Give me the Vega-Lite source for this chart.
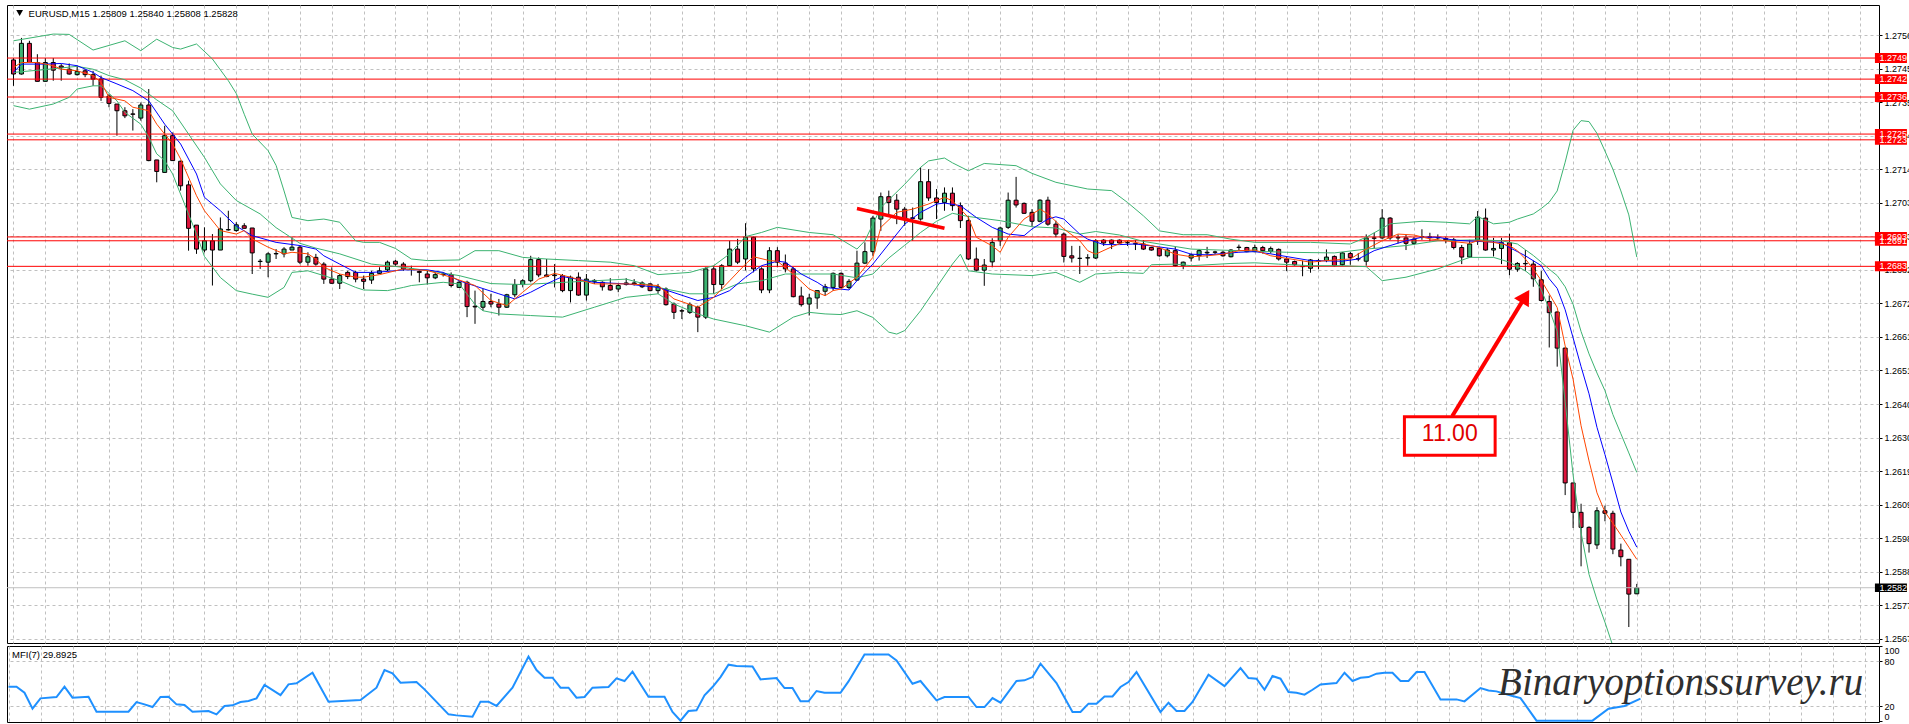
{
  "$schema": "https://vega.github.io/schema/vega-lite/v6.json",
  "description": "EURUSD M15 candlestick chart with Bollinger bands, two moving averages, level lines and MFI(7) panel.",
  "background": "#ffffff",
  "padding": {"left": 4, "top": 4, "right": 0, "bottom": 3},
  "bounds": "flush",
  "spacing": 3,
  "config": {
    "view": {"stroke": "#000000", "strokeWidth": 1},
    "font": "Liberation Sans",
    "axis": {"labelOverlap": false, "labelBound": false}
  },
  "datasets": {
    "candles": [
      {"k":0,"o":1.27480,"h":1.27486,"l":1.27399,"c":1.27436},
      {"k":1,"o":1.27436,"h":1.27549,"l":1.27434,"c":1.27532},
      {"k":2,"o":1.27532,"h":1.27540,"l":1.27472,"c":1.27472},
      {"k":3,"o":1.27472,"h":1.27498,"l":1.27413,"c":1.27413},
      {"k":4,"o":1.27413,"h":1.27486,"l":1.27413,"c":1.27472},
      {"k":5,"o":1.27472,"h":1.27486,"l":1.27415,"c":1.27448},
      {"k":6,"o":1.27461,"h":1.27467,"l":1.27415,"c":1.27456},
      {"k":7,"o":1.27451,"h":1.27469,"l":1.27434,"c":1.27436},
      {"k":8,"o":1.27434,"h":1.27462,"l":1.27431,"c":1.27444},
      {"k":9,"o":1.27446,"h":1.27451,"l":1.27426,"c":1.27434},
      {"k":10,"o":1.27434,"h":1.27446,"l":1.27399,"c":1.27420},
      {"k":11,"o":1.27420,"h":1.27431,"l":1.27352,"c":1.27363},
      {"k":12,"o":1.27367,"h":1.27373,"l":1.27332,"c":1.27344},
      {"k":13,"o":1.27342,"h":1.27342,"l":1.27243,"c":1.27321},
      {"k":14,"o":1.27321,"h":1.27332,"l":1.27298,"c":1.27305},
      {"k":15,"o":1.27311,"h":1.27326,"l":1.27259,"c":1.27310},
      {"k":16,"o":1.27298,"h":1.27347,"l":1.27290,"c":1.27339},
      {"k":17,"o":1.27339,"h":1.27389,"l":1.27163,"c":1.27165},
      {"k":18,"o":1.27167,"h":1.27167,"l":1.27097,"c":1.27131},
      {"k":19,"o":1.27128,"h":1.27274,"l":1.27128,"c":1.27243},
      {"k":20,"o":1.27243,"h":1.27253,"l":1.27165,"c":1.27165},
      {"k":21,"o":1.27163,"h":1.27165,"l":1.27071,"c":1.27086},
      {"k":22,"o":1.27089,"h":1.27102,"l":1.26883,"c":1.26953},
      {"k":23,"o":1.26963,"h":1.26963,"l":1.26873,"c":1.26888},
      {"k":24,"o":1.26885,"h":1.26956,"l":1.26878,"c":1.26914},
      {"k":25,"o":1.26914,"h":1.26935,"l":1.26774,"c":1.26885},
      {"k":26,"o":1.26885,"h":1.26987,"l":1.26885,"c":1.26951},
      {"k":27,"o":1.26948,"h":1.27008,"l":1.26946,"c":1.26949},
      {"k":28,"o":1.26946,"h":1.26972,"l":1.26942,"c":1.26964},
      {"k":29,"o":1.26961,"h":1.26969,"l":1.26953,"c":1.26953},
      {"k":30,"o":1.26954,"h":1.26954,"l":1.26810,"c":1.26876},
      {"k":31,"o":1.26849,"h":1.26857,"l":1.26826,"c":1.26850},
      {"k":32,"o":1.26847,"h":1.26878,"l":1.26800,"c":1.26873},
      {"k":33,"o":1.26873,"h":1.26888,"l":1.26857,"c":1.26874},
      {"k":34,"o":1.26873,"h":1.26894,"l":1.26862,"c":1.26888},
      {"k":35,"o":1.26885,"h":1.26925,"l":1.26885,"c":1.26894},
      {"k":36,"o":1.26894,"h":1.26899,"l":1.26841,"c":1.26847},
      {"k":37,"o":1.26847,"h":1.26878,"l":1.26836,"c":1.26864},
      {"k":38,"o":1.26862,"h":1.26873,"l":1.26836,"c":1.26841},
      {"k":39,"o":1.26841,"h":1.26847,"l":1.26779,"c":1.26794},
      {"k":40,"o":1.26794,"h":1.26831,"l":1.26779,"c":1.26781},
      {"k":41,"o":1.26781,"h":1.26810,"l":1.26763,"c":1.26805},
      {"k":42,"o":1.26815,"h":1.26820,"l":1.26794,"c":1.26802},
      {"k":43,"o":1.26815,"h":1.26820,"l":1.26784,"c":1.26794},
      {"k":44,"o":1.26794,"h":1.26805,"l":1.26763,"c":1.26787},
      {"k":45,"o":1.26791,"h":1.26820,"l":1.26779,"c":1.26812},
      {"k":46,"o":1.26812,"h":1.26831,"l":1.26810,"c":1.26820},
      {"k":47,"o":1.26823,"h":1.26852,"l":1.26818,"c":1.26847},
      {"k":48,"o":1.26850,"h":1.26854,"l":1.26836,"c":1.26841},
      {"k":49,"o":1.26841,"h":1.26847,"l":1.26820,"c":1.26826},
      {"k":50,"o":1.26826,"h":1.26836,"l":1.26805,"c":1.26824},
      {"k":51,"o":1.26818,"h":1.26821,"l":1.26784,"c":1.26815},
      {"k":52,"o":1.26810,"h":1.26821,"l":1.26777,"c":1.26798},
      {"k":53,"o":1.26798,"h":1.26815,"l":1.26794,"c":1.26808},
      {"k":54,"o":1.26810,"h":1.26815,"l":1.26802,"c":1.26808},
      {"k":55,"o":1.26808,"h":1.26815,"l":1.26768,"c":1.26774},
      {"k":56,"o":1.26768,"h":1.26789,"l":1.26768,"c":1.26784},
      {"k":57,"o":1.26784,"h":1.26789,"l":1.26675,"c":1.26708},
      {"k":58,"o":1.26709,"h":1.26758,"l":1.26654,"c":1.26707},
      {"k":59,"o":1.26706,"h":1.26763,"l":1.26695,"c":1.26724},
      {"k":60,"o":1.26724,"h":1.26748,"l":1.26706,"c":1.26716},
      {"k":61,"o":1.26716,"h":1.26732,"l":1.26680,"c":1.26706},
      {"k":62,"o":1.26706,"h":1.26748,"l":1.26704,"c":1.26745},
      {"k":63,"o":1.26745,"h":1.26794,"l":1.26737,"c":1.26777},
      {"k":64,"o":1.26777,"h":1.26794,"l":1.26768,"c":1.26789},
      {"k":65,"o":1.26789,"h":1.26867,"l":1.26784,"c":1.26855},
      {"k":66,"o":1.26855,"h":1.26862,"l":1.26800,"c":1.26807},
      {"k":67,"o":1.26807,"h":1.26857,"l":1.26800,"c":1.26802},
      {"k":68,"o":1.26807,"h":1.26841,"l":1.26768,"c":1.26805},
      {"k":69,"o":1.26805,"h":1.26810,"l":1.26753,"c":1.26758},
      {"k":70,"o":1.26758,"h":1.26805,"l":1.26721,"c":1.26800},
      {"k":71,"o":1.26800,"h":1.26815,"l":1.26742,"c":1.26744},
      {"k":72,"o":1.26744,"h":1.26810,"l":1.26727,"c":1.26794},
      {"k":73,"o":1.26787,"h":1.26794,"l":1.26779,"c":1.26790},
      {"k":74,"o":1.26784,"h":1.26787,"l":1.26758,"c":1.26770},
      {"k":75,"o":1.26774,"h":1.26797,"l":1.26758,"c":1.26760},
      {"k":76,"o":1.26763,"h":1.26779,"l":1.26753,"c":1.26774},
      {"k":77,"o":1.26777,"h":1.26797,"l":1.26774,"c":1.26782},
      {"k":78,"o":1.26782,"h":1.26794,"l":1.26774,"c":1.26779},
      {"k":79,"o":1.26782,"h":1.26787,"l":1.26766,"c":1.26770},
      {"k":80,"o":1.26779,"h":1.26781,"l":1.26756,"c":1.26758},
      {"k":81,"o":1.26758,"h":1.26779,"l":1.26748,"c":1.26770},
      {"k":82,"o":1.26763,"h":1.26768,"l":1.26711,"c":1.26714},
      {"k":83,"o":1.26716,"h":1.26721,"l":1.26669,"c":1.26690},
      {"k":84,"o":1.26695,"h":1.26701,"l":1.26669,"c":1.26694},
      {"k":85,"o":1.26690,"h":1.26721,"l":1.26685,"c":1.26714},
      {"k":86,"o":1.26706,"h":1.26711,"l":1.26628,"c":1.26675},
      {"k":87,"o":1.26675,"h":1.26831,"l":1.26669,"c":1.26826},
      {"k":88,"o":1.26826,"h":1.26836,"l":1.26748,"c":1.26777},
      {"k":89,"o":1.26777,"h":1.26841,"l":1.26763,"c":1.26836},
      {"k":90,"o":1.26836,"h":1.26914,"l":1.26836,"c":1.26888},
      {"k":91,"o":1.26888,"h":1.26920,"l":1.26841,"c":1.26847},
      {"k":92,"o":1.26857,"h":1.26969,"l":1.26821,"c":1.26925},
      {"k":93,"o":1.26925,"h":1.26927,"l":1.26815,"c":1.26826},
      {"k":94,"o":1.26826,"h":1.26831,"l":1.26750,"c":1.26760},
      {"k":95,"o":1.26760,"h":1.26894,"l":1.26750,"c":1.26883},
      {"k":96,"o":1.26883,"h":1.26894,"l":1.26831,"c":1.26847},
      {"k":97,"o":1.26844,"h":1.26871,"l":1.26815,"c":1.26826},
      {"k":98,"o":1.26826,"h":1.26831,"l":1.26737,"c":1.26739},
      {"k":99,"o":1.26741,"h":1.26770,"l":1.26708,"c":1.26714},
      {"k":100,"o":1.26716,"h":1.26748,"l":1.26680,"c":1.26735},
      {"k":101,"o":1.26735,"h":1.26758,"l":1.26701,"c":1.26758},
      {"k":102,"o":1.26756,"h":1.26779,"l":1.26742,"c":1.26770},
      {"k":103,"o":1.26768,"h":1.26815,"l":1.26758,"c":1.26812},
      {"k":104,"o":1.26812,"h":1.26815,"l":1.26766,"c":1.26768},
      {"k":105,"o":1.26768,"h":1.26794,"l":1.26763,"c":1.26787},
      {"k":106,"o":1.26791,"h":1.26883,"l":1.26789,"c":1.26844},
      {"k":107,"o":1.26844,"h":1.26909,"l":1.26841,"c":1.26880},
      {"k":108,"o":1.26880,"h":1.26992,"l":1.26867,"c":1.26985},
      {"k":109,"o":1.26982,"h":1.27065,"l":1.26945,"c":1.27052},
      {"k":110,"o":1.27052,"h":1.27071,"l":1.26992,"c":1.27034},
      {"k":111,"o":1.27041,"h":1.27060,"l":1.26966,"c":1.27013},
      {"k":112,"o":1.27013,"h":1.27020,"l":1.26961,"c":1.26982},
      {"k":113,"o":1.26986,"h":1.27018,"l":1.26914,"c":1.26984},
      {"k":114,"o":1.26982,"h":1.27144,"l":1.26977,"c":1.27099},
      {"k":115,"o":1.27099,"h":1.27138,"l":1.27039,"c":1.27048},
      {"k":116,"o":1.27048,"h":1.27076,"l":1.26982,"c":1.27034},
      {"k":117,"o":1.27034,"h":1.27081,"l":1.27008,"c":1.27063},
      {"k":118,"o":1.27063,"h":1.27081,"l":1.27008,"c":1.27024},
      {"k":119,"o":1.27024,"h":1.27034,"l":1.26954,"c":1.26977},
      {"k":120,"o":1.26977,"h":1.26992,"l":1.26854,"c":1.26857},
      {"k":121,"o":1.26857,"h":1.26893,"l":1.26818,"c":1.26822},
      {"k":122,"o":1.26822,"h":1.26857,"l":1.26773,"c":1.26838},
      {"k":123,"o":1.26848,"h":1.26922,"l":1.26831,"c":1.26909},
      {"k":124,"o":1.26914,"h":1.26958,"l":1.26898,"c":1.26954},
      {"k":125,"o":1.26956,"h":1.27065,"l":1.26951,"c":1.27041},
      {"k":126,"o":1.27041,"h":1.27114,"l":1.27018,"c":1.27026},
      {"k":127,"o":1.27031,"h":1.27034,"l":1.26998,"c":1.27000},
      {"k":128,"o":1.27003,"h":1.27013,"l":1.26958,"c":1.26975},
      {"k":129,"o":1.26975,"h":1.27044,"l":1.26972,"c":1.27041},
      {"k":130,"o":1.27041,"h":1.27052,"l":1.26961,"c":1.26966},
      {"k":131,"o":1.26966,"h":1.26977,"l":1.26925,"c":1.26935},
      {"k":132,"o":1.26935,"h":1.26940,"l":1.26846,"c":1.26865},
      {"k":133,"o":1.26867,"h":1.26898,"l":1.26846,"c":1.26860},
      {"k":134,"o":1.26859,"h":1.26898,"l":1.26810,"c":1.26859},
      {"k":135,"o":1.26860,"h":1.26872,"l":1.26836,"c":1.26861},
      {"k":136,"o":1.26860,"h":1.26919,"l":1.26857,"c":1.26914},
      {"k":137,"o":1.26916,"h":1.26919,"l":1.26898,"c":1.26907},
      {"k":138,"o":1.26916,"h":1.26918,"l":1.26888,"c":1.26906},
      {"k":139,"o":1.26916,"h":1.26918,"l":1.26904,"c":1.26907},
      {"k":140,"o":1.26908,"h":1.26914,"l":1.26898,"c":1.26908},
      {"k":141,"o":1.26905,"h":1.26916,"l":1.26885,"c":1.26904},
      {"k":142,"o":1.26904,"h":1.26916,"l":1.26885,"c":1.26888},
      {"k":143,"o":1.26893,"h":1.26895,"l":1.26883,"c":1.26885},
      {"k":144,"o":1.26891,"h":1.26893,"l":1.26864,"c":1.26867},
      {"k":145,"o":1.26867,"h":1.26891,"l":1.26862,"c":1.26885},
      {"k":146,"o":1.26883,"h":1.26895,"l":1.26833,"c":1.26836},
      {"k":147,"o":1.26836,"h":1.26849,"l":1.26825,"c":1.26847},
      {"k":148,"o":1.26860,"h":1.26874,"l":1.26849,"c":1.26870},
      {"k":149,"o":1.26867,"h":1.26888,"l":1.26852,"c":1.26883},
      {"k":150,"o":1.26876,"h":1.26895,"l":1.26860,"c":1.26878},
      {"k":151,"o":1.26878,"h":1.26883,"l":1.26872,"c":1.26879},
      {"k":152,"o":1.26878,"h":1.26883,"l":1.26864,"c":1.26867},
      {"k":153,"o":1.26864,"h":1.26888,"l":1.26862,"c":1.26885},
      {"k":154,"o":1.26893,"h":1.26902,"l":1.26883,"c":1.26894},
      {"k":155,"o":1.26893,"h":1.26895,"l":1.26878,"c":1.26880},
      {"k":156,"o":1.26880,"h":1.26902,"l":1.26878,"c":1.26893},
      {"k":157,"o":1.26893,"h":1.26898,"l":1.26874,"c":1.26883},
      {"k":158,"o":1.26881,"h":1.26896,"l":1.26874,"c":1.26890},
      {"k":159,"o":1.26887,"h":1.26890,"l":1.26852,"c":1.26857},
      {"k":160,"o":1.26857,"h":1.26863,"l":1.26819,"c":1.26847},
      {"k":161,"o":1.26849,"h":1.26852,"l":1.26836,"c":1.26839},
      {"k":162,"o":1.26834,"h":1.26852,"l":1.26803,"c":1.26833},
      {"k":163,"o":1.26828,"h":1.26857,"l":1.26814,"c":1.26854},
      {"k":164,"o":1.26850,"h":1.26857,"l":1.26825,"c":1.26851},
      {"k":165,"o":1.26852,"h":1.26887,"l":1.26847,"c":1.26863},
      {"k":166,"o":1.26865,"h":1.26868,"l":1.26833,"c":1.26836},
      {"k":167,"o":1.26839,"h":1.26879,"l":1.26836,"c":1.26876},
      {"k":168,"o":1.26874,"h":1.26879,"l":1.26839,"c":1.26861},
      {"k":169,"o":1.26858,"h":1.26876,"l":1.26850,"c":1.26857},
      {"k":170,"o":1.26850,"h":1.26934,"l":1.26836,"c":1.26923},
      {"k":171,"o":1.26923,"h":1.26939,"l":1.26890,"c":1.26922},
      {"k":172,"o":1.26923,"h":1.27013,"l":1.26919,"c":1.26985},
      {"k":173,"o":1.26985,"h":1.26988,"l":1.26917,"c":1.26923},
      {"k":174,"o":1.26923,"h":1.26934,"l":1.26906,"c":1.26924},
      {"k":175,"o":1.26923,"h":1.26934,"l":1.26885,"c":1.26906},
      {"k":176,"o":1.26906,"h":1.26926,"l":1.26901,"c":1.26919},
      {"k":177,"o":1.26926,"h":1.26950,"l":1.26917,"c":1.26927},
      {"k":178,"o":1.26926,"h":1.26939,"l":1.26912,"c":1.26925},
      {"k":179,"o":1.26923,"h":1.26934,"l":1.26917,"c":1.26924},
      {"k":180,"o":1.26921,"h":1.26926,"l":1.26906,"c":1.26917},
      {"k":181,"o":1.26917,"h":1.26923,"l":1.26887,"c":1.26893},
      {"k":182,"o":1.26893,"h":1.26901,"l":1.26841,"c":1.26863},
      {"k":183,"o":1.26863,"h":1.26917,"l":1.26861,"c":1.26904},
      {"k":184,"o":1.26916,"h":1.27007,"l":1.26901,"c":1.26988},
      {"k":185,"o":1.26985,"h":1.27015,"l":1.26883,"c":1.26885},
      {"k":186,"o":1.26885,"h":1.26923,"l":1.26865,"c":1.26890},
      {"k":187,"o":1.26890,"h":1.26923,"l":1.26841,"c":1.26908},
      {"k":188,"o":1.26908,"h":1.26936,"l":1.26806,"c":1.26825},
      {"k":189,"o":1.26825,"h":1.26847,"l":1.26817,"c":1.26843},
      {"k":190,"o":1.26843,"h":1.26885,"l":1.26819,"c":1.26842},
      {"k":191,"o":1.26841,"h":1.26852,"l":1.26770,"c":1.26795},
      {"k":192,"o":1.26792,"h":1.26819,"l":1.26724,"c":1.26727},
      {"k":193,"o":1.26724,"h":1.26743,"l":1.26580,"c":1.26689},
      {"k":194,"o":1.26691,"h":1.26694,"l":1.26520,"c":1.26578},
      {"k":195,"o":1.26578,"h":1.26580,"l":1.26118,"c":1.26156},
      {"k":196,"o":1.26156,"h":1.26156,"l":1.26015,"c":1.26064},
      {"k":197,"o":1.26064,"h":1.26091,"l":1.25895,"c":1.26017},
      {"k":198,"o":1.26017,"h":1.26020,"l":1.25938,"c":1.25966},
      {"k":199,"o":1.25962,"h":1.26080,"l":1.25949,"c":1.26069},
      {"k":200,"o":1.26069,"h":1.26085,"l":1.26036,"c":1.26061},
      {"k":201,"o":1.26061,"h":1.26069,"l":1.25933,"c":1.25949},
      {"k":202,"o":1.25946,"h":1.25966,"l":1.25895,"c":1.25925},
      {"k":203,"o":1.25917,"h":1.25917,"l":1.25705,"c":1.25808},
      {"k":204,"o":1.25809,"h":1.25840,"l":1.25808,"c":1.25828}
    ],
    "lines": [
      {"s":"U","k":0,"p":1.27540},{"s":"U","k":5,"p":1.27561},{"s":"U","k":7,"p":1.27560},{"s":"U","k":10,"p":1.27511},
      {"s":"U","k":14,"p":1.27540},{"s":"U","k":16,"p":1.27509},{"s":"U","k":18,"p":1.27545},{"s":"U","k":20,"p":1.27519},
      {"s":"U","k":21,"p":1.27514},{"s":"U","k":23,"p":1.27530},{"s":"U","k":25,"p":1.27483},{"s":"U","k":27,"p":1.27415},
      {"s":"U","k":28,"p":1.27375},{"s":"U","k":29,"p":1.27310},{"s":"U","k":30,"p":1.27248},{"s":"U","k":32,"p":1.27196},
      {"s":"U","k":33,"p":1.27150},{"s":"U","k":34,"p":1.27070},{"s":"U","k":35,"p":1.26987},{"s":"U","k":37,"p":1.26977},
      {"s":"U","k":39,"p":1.26982},{"s":"U","k":41,"p":1.26972},{"s":"U","k":43,"p":1.26914},{"s":"U","k":44,"p":1.26909},
      {"s":"U","k":46,"p":1.26909},{"s":"U","k":48,"p":1.26890},{"s":"U","k":50,"p":1.26857},{"s":"U","k":52,"p":1.26852},
      {"s":"U","k":56,"p":1.26854},{"s":"U","k":58,"p":1.26883},{"s":"U","k":61,"p":1.26883},{"s":"U","k":64,"p":1.26862},
      {"s":"U","k":67,"p":1.26857},{"s":"U","k":71,"p":1.26852},{"s":"U","k":75,"p":1.26847},{"s":"U","k":78,"p":1.26836},
      {"s":"U","k":81,"p":1.26808},{"s":"U","k":85,"p":1.26815},{"s":"U","k":88,"p":1.26836},{"s":"U","k":90,"p":1.26873},
      {"s":"U","k":92,"p":1.26927},{"s":"U","k":94,"p":1.26940},{"s":"U","k":96,"p":1.26956},{"s":"U","k":100,"p":1.26940},
      {"s":"U","k":103,"p":1.26933},{"s":"U","k":106,"p":1.26888},{"s":"U","k":107,"p":1.26914},{"s":"U","k":109,"p":1.27018},
      {"s":"U","k":112,"p":1.27091},{"s":"U","k":114,"p":1.27144},{"s":"U","k":115,"p":1.27164},{"s":"U","k":117,"p":1.27173},
      {"s":"U","k":118,"p":1.27158},{"s":"U","k":120,"p":1.27133},{"s":"U","k":122,"p":1.27156},{"s":"U","k":126,"p":1.27149},
      {"s":"U","k":128,"p":1.27125},{"s":"U","k":131,"p":1.27097},{"s":"U","k":135,"p":1.27076},{"s":"U","k":138,"p":1.27071},
      {"s":"U","k":140,"p":1.27034},{"s":"U","k":142,"p":1.26992},{"s":"U","k":144,"p":1.26945},{"s":"U","k":147,"p":1.26933},
      {"s":"U","k":150,"p":1.26933},{"s":"U","k":153,"p":1.26919},{"s":"U","k":156,"p":1.26909},{"s":"U","k":163,"p":1.26909},
      {"s":"U","k":168,"p":1.26904},{"s":"U","k":170,"p":1.26925},{"s":"U","k":173,"p":1.26967},{"s":"U","k":177,"p":1.26975},
      {"s":"U","k":180,"p":1.26972},{"s":"U","k":183,"p":1.26967},{"s":"U","k":184,"p":1.26990},{"s":"U","k":186,"p":1.26967},
      {"s":"U","k":188,"p":1.26972},{"s":"U","k":189,"p":1.26982},{"s":"U","k":191,"p":1.26998},{"s":"U","k":192,"p":1.27015},
      {"s":"U","k":193,"p":1.27035},{"s":"U","k":194,"p":1.27070},{"s":"U","k":195,"p":1.27160},{"s":"U","k":196,"p":1.27260},
      {"s":"U","k":197,"p":1.27290},{"s":"U","k":198,"p":1.27287},{"s":"U","k":199,"p":1.27250},{"s":"U","k":200,"p":1.27195},
      {"s":"U","k":201,"p":1.27138},{"s":"U","k":202,"p":1.27070},{"s":"U","k":203,"p":1.26995},{"s":"U","k":204,"p":1.26863},

      {"s":"M","k":0,"p":1.27441},{"s":"M","k":4,"p":1.27450},{"s":"M","k":8,"p":1.27460},{"s":"M","k":10,"p":1.27451},
      {"s":"M","k":12,"p":1.27431},{"s":"M","k":14,"p":1.27418},{"s":"M","k":16,"p":1.27392},{"s":"M","k":18,"p":1.27355},
      {"s":"M","k":20,"p":1.27321},{"s":"M","k":22,"p":1.27248},{"s":"M","k":24,"p":1.27175},{"s":"M","k":26,"p":1.27092},
      {"s":"M","k":28,"p":1.27040},{"s":"M","k":31,"p":1.26998},{"s":"M","k":33,"p":1.26955},{"s":"M","k":36,"p":1.26906},
      {"s":"M","k":38,"p":1.26891},{"s":"M","k":41,"p":1.26873},{"s":"M","k":45,"p":1.26841},{"s":"M","k":49,"p":1.26831},
      {"s":"M","k":52,"p":1.26821},{"s":"M","k":56,"p":1.26805},{"s":"M","k":60,"p":1.26780},{"s":"M","k":64,"p":1.26777},
      {"s":"M","k":70,"p":1.26785},{"s":"M","k":77,"p":1.26794},{"s":"M","k":81,"p":1.26768},{"s":"M","k":85,"p":1.26748},
      {"s":"M","k":88,"p":1.26748},{"s":"M","k":91,"p":1.26779},{"s":"M","k":94,"p":1.26789},{"s":"M","k":97,"p":1.26810},
      {"s":"M","k":103,"p":1.26810},{"s":"M","k":106,"p":1.26798},{"s":"M","k":108,"p":1.26810},{"s":"M","k":110,"p":1.26860},
      {"s":"M","k":112,"p":1.26900},{"s":"M","k":114,"p":1.26940},{"s":"M","k":116,"p":1.26975},{"s":"M","k":118,"p":1.27000},
      {"s":"M","k":120,"p":1.26990},{"s":"M","k":124,"p":1.26977},{"s":"M","k":128,"p":1.26958},{"s":"M","k":131,"p":1.26954},
      {"s":"M","k":134,"p":1.26935},{"s":"M","k":136,"p":1.26943},{"s":"M","k":139,"p":1.26932},{"s":"M","k":142,"p":1.26912},
      {"s":"M","k":148,"p":1.26888},{"s":"M","k":154,"p":1.26883},{"s":"M","k":160,"p":1.26878},{"s":"M","k":166,"p":1.26876},
      {"s":"M","k":170,"p":1.26888},{"s":"M","k":175,"p":1.26899},{"s":"M","k":179,"p":1.26914},{"s":"M","k":184,"p":1.26917},
      {"s":"M","k":187,"p":1.26914},{"s":"M","k":189,"p":1.26904},{"s":"M","k":190,"p":1.26886},{"s":"M","k":191,"p":1.26868},
      {"s":"M","k":192,"p":1.26847},{"s":"M","k":193,"p":1.26825},{"s":"M","k":194,"p":1.26805},{"s":"M","k":195,"p":1.26770},
      {"s":"M","k":196,"p":1.26715},{"s":"M","k":197,"p":1.26630},{"s":"M","k":198,"p":1.26560},{"s":"M","k":199,"p":1.26500},
      {"s":"M","k":200,"p":1.26445},{"s":"M","k":201,"p":1.26370},{"s":"M","k":202,"p":1.26310},{"s":"M","k":203,"p":1.26250},
      {"s":"M","k":204,"p":1.26189},

      {"s":"L","k":0,"p":1.27337},{"s":"L","k":2,"p":1.27326},{"s":"L","k":5,"p":1.27342},{"s":"L","k":7,"p":1.27363},
      {"s":"L","k":8,"p":1.27389},{"s":"L","k":10,"p":1.27399},{"s":"L","k":11,"p":1.27399},{"s":"L","k":13,"p":1.27352},
      {"s":"L","k":14,"p":1.27316},{"s":"L","k":16,"p":1.27279},{"s":"L","k":17,"p":1.27238},{"s":"L","k":18,"p":1.27186},
      {"s":"L","k":19,"p":1.27165},{"s":"L","k":20,"p":1.27123},{"s":"L","k":21,"p":1.27060},{"s":"L","k":23,"p":1.26935},
      {"s":"L","k":24,"p":1.26865},{"s":"L","k":26,"p":1.26799},{"s":"L","k":28,"p":1.26758},{"s":"L","k":30,"p":1.26747},
      {"s":"L","k":32,"p":1.26737},{"s":"L","k":34,"p":1.26768},{"s":"L","k":35,"p":1.26815},{"s":"L","k":37,"p":1.26820},
      {"s":"L","k":39,"p":1.26805},{"s":"L","k":41,"p":1.26789},{"s":"L","k":43,"p":1.26768},{"s":"L","k":44,"p":1.26760},
      {"s":"L","k":47,"p":1.26758},{"s":"L","k":49,"p":1.26768},{"s":"L","k":50,"p":1.26774},{"s":"L","k":54,"p":1.26784},
      {"s":"L","k":56,"p":1.26779},{"s":"L","k":58,"p":1.26715},{"s":"L","k":59,"p":1.26695},{"s":"L","k":61,"p":1.26685},
      {"s":"L","k":65,"p":1.26680},{"s":"L","k":69,"p":1.26675},{"s":"L","k":73,"p":1.26706},{"s":"L","k":77,"p":1.26737},
      {"s":"L","k":81,"p":1.26748},{"s":"L","k":83,"p":1.26716},{"s":"L","k":86,"p":1.26685},{"s":"L","k":88,"p":1.26669},
      {"s":"L","k":92,"p":1.26648},{"s":"L","k":95,"p":1.26628},{"s":"L","k":98,"p":1.26675},{"s":"L","k":100,"p":1.26690},
      {"s":"L","k":102,"p":1.26685},{"s":"L","k":104,"p":1.26683},{"s":"L","k":106,"p":1.26695},{"s":"L","k":108,"p":1.26674},
      {"s":"L","k":110,"p":1.26628},{"s":"L","k":111,"p":1.26622},{"s":"L","k":112,"p":1.26633},{"s":"L","k":114,"p":1.26695},
      {"s":"L","k":116,"p":1.26768},{"s":"L","k":118,"p":1.26841},{"s":"L","k":119,"p":1.26872},{"s":"L","k":120,"p":1.26820},
      {"s":"L","k":123,"p":1.26810},{"s":"L","k":128,"p":1.26805},{"s":"L","k":131,"p":1.26815},{"s":"L","k":134,"p":1.26784},
      {"s":"L","k":136,"p":1.26810},{"s":"L","k":139,"p":1.26815},{"s":"L","k":142,"p":1.26812},{"s":"L","k":143,"p":1.26839},
      {"s":"L","k":146,"p":1.26841},{"s":"L","k":148,"p":1.26836},{"s":"L","k":153,"p":1.26843},{"s":"L","k":156,"p":1.26845},
      {"s":"L","k":159,"p":1.26841},{"s":"L","k":163,"p":1.26836},{"s":"L","k":167,"p":1.26836},{"s":"L","k":170,"p":1.26833},
      {"s":"L","k":172,"p":1.26789},{"s":"L","k":175,"p":1.26800},{"s":"L","k":179,"p":1.26826},{"s":"L","k":183,"p":1.26862},
      {"s":"L","k":186,"p":1.26862},{"s":"L","k":188,"p":1.26847},{"s":"L","k":190,"p":1.26820},{"s":"L","k":191,"p":1.26800},
      {"s":"L","k":192,"p":1.26760},{"s":"L","k":193,"p":1.26700},{"s":"L","k":194,"p":1.26630},{"s":"L","k":195,"p":1.26410},
      {"s":"L","k":196,"p":1.26180},{"s":"L","k":197,"p":1.26000},{"s":"L","k":198,"p":1.25870},{"s":"L","k":199,"p":1.25790},
      {"s":"L","k":200,"p":1.25720},{"s":"L","k":201,"p":1.25645},

      {"s":"B","k":0,"p":1.27441},{"s":"B","k":1,"p":1.27467},{"s":"B","k":4,"p":1.27467},{"s":"B","k":6,"p":1.27469},
      {"s":"B","k":8,"p":1.27462},{"s":"B","k":10,"p":1.27441},{"s":"B","k":11,"p":1.27425},{"s":"B","k":13,"p":1.27405},
      {"s":"B","k":15,"p":1.27384},{"s":"B","k":17,"p":1.27352},{"s":"B","k":19,"p":1.27279},{"s":"B","k":21,"p":1.27217},
      {"s":"B","k":23,"p":1.27123},{"s":"B","k":24,"p":1.27050},{"s":"B","k":26,"p":1.27008},{"s":"B","k":28,"p":1.26960},
      {"s":"B","k":30,"p":1.26930},{"s":"B","k":33,"p":1.26909},{"s":"B","k":36,"p":1.26899},{"s":"B","k":38,"p":1.26888},
      {"s":"B","k":39,"p":1.26867},{"s":"B","k":41,"p":1.26841},{"s":"B","k":43,"p":1.26815},{"s":"B","k":45,"p":1.26815},
      {"s":"B","k":47,"p":1.26818},{"s":"B","k":49,"p":1.26823},{"s":"B","k":52,"p":1.26823},{"s":"B","k":54,"p":1.26815},
      {"s":"B","k":56,"p":1.26789},{"s":"B","k":61,"p":1.26748},{"s":"B","k":63,"p":1.26732},{"s":"B","k":65,"p":1.26753},
      {"s":"B","k":67,"p":1.26779},{"s":"B","k":69,"p":1.26802},{"s":"B","k":73,"p":1.26784},{"s":"B","k":77,"p":1.26779},
      {"s":"B","k":81,"p":1.26768},{"s":"B","k":86,"p":1.26727},{"s":"B","k":88,"p":1.26737},{"s":"B","k":90,"p":1.26758},
      {"s":"B","k":92,"p":1.26800},{"s":"B","k":94,"p":1.26836},{"s":"B","k":96,"p":1.26850},{"s":"B","k":97,"p":1.26847},
      {"s":"B","k":99,"p":1.26810},{"s":"B","k":101,"p":1.26784},{"s":"B","k":102,"p":1.26768},{"s":"B","k":105,"p":1.26760},
      {"s":"B","k":106,"p":1.26789},{"s":"B","k":108,"p":1.26841},{"s":"B","k":110,"p":1.26904},{"s":"B","k":112,"p":1.26966},
      {"s":"B","k":114,"p":1.27003},{"s":"B","k":116,"p":1.27029},{"s":"B","k":117,"p":1.27032},{"s":"B","k":119,"p":1.27024},
      {"s":"B","k":121,"p":1.26987},{"s":"B","k":123,"p":1.26956},{"s":"B","k":125,"p":1.26935},{"s":"B","k":127,"p":1.26930},
      {"s":"B","k":128,"p":1.26951},{"s":"B","k":130,"p":1.26982},{"s":"B","k":131,"p":1.26989},{"s":"B","k":132,"p":1.26982},
      {"s":"B","k":134,"p":1.26935},{"s":"B","k":135,"p":1.26919},{"s":"B","k":137,"p":1.26902},{"s":"B","k":139,"p":1.26902},
      {"s":"B","k":141,"p":1.26904},{"s":"B","k":143,"p":1.26898},{"s":"B","k":146,"p":1.26888},{"s":"B","k":148,"p":1.26872},
      {"s":"B","k":150,"p":1.26870},{"s":"B","k":152,"p":1.26874},{"s":"B","k":154,"p":1.26878},{"s":"B","k":156,"p":1.26880},
      {"s":"B","k":158,"p":1.26873},{"s":"B","k":163,"p":1.26852},{"s":"B","k":167,"p":1.26850},{"s":"B","k":169,"p":1.26857},
      {"s":"B","k":171,"p":1.26883},{"s":"B","k":173,"p":1.26899},{"s":"B","k":175,"p":1.26914},{"s":"B","k":177,"p":1.26925},
      {"s":"B","k":179,"p":1.26925},{"s":"B","k":181,"p":1.26916},{"s":"B","k":184,"p":1.26912},{"s":"B","k":187,"p":1.26909},
      {"s":"B","k":188,"p":1.26893},{"s":"B","k":190,"p":1.26867},{"s":"B","k":192,"p":1.26836},{"s":"B","k":193,"p":1.26795},
      {"s":"B","k":194,"p":1.26765},{"s":"B","k":195,"p":1.26698},{"s":"B","k":196,"p":1.26610},{"s":"B","k":197,"p":1.26520},
      {"s":"B","k":198,"p":1.26435},{"s":"B","k":199,"p":1.26330},{"s":"B","k":200,"p":1.26245},{"s":"B","k":201,"p":1.26156},
      {"s":"B","k":202,"p":1.26065},{"s":"B","k":203,"p":1.26005},{"s":"B","k":204,"p":1.25955},

      {"s":"O","k":0,"p":1.27457},{"s":"O","k":1,"p":1.27472},{"s":"O","k":3,"p":1.27472},{"s":"O","k":5,"p":1.27462},
      {"s":"O","k":6,"p":1.27451},{"s":"O","k":8,"p":1.27446},{"s":"O","k":10,"p":1.27431},{"s":"O","k":11,"p":1.27410},
      {"s":"O","k":12,"p":1.27363},{"s":"O","k":14,"p":1.27352},{"s":"O","k":15,"p":1.27332},{"s":"O","k":17,"p":1.27321},
      {"s":"O","k":18,"p":1.27279},{"s":"O","k":19,"p":1.27248},{"s":"O","k":20,"p":1.27217},{"s":"O","k":21,"p":1.27170},
      {"s":"O","k":23,"p":1.27055},{"s":"O","k":24,"p":1.27008},{"s":"O","k":26,"p":1.26946},{"s":"O","k":28,"p":1.26935},
      {"s":"O","k":29,"p":1.26946},{"s":"O","k":30,"p":1.26920},{"s":"O","k":32,"p":1.26894},{"s":"O","k":34,"p":1.26873},
      {"s":"O","k":35,"p":1.26878},{"s":"O","k":37,"p":1.26873},{"s":"O","k":38,"p":1.26857},{"s":"O","k":39,"p":1.26831},
      {"s":"O","k":41,"p":1.26810},{"s":"O","k":43,"p":1.26800},{"s":"O","k":44,"p":1.26800},{"s":"O","k":46,"p":1.26808},
      {"s":"O","k":48,"p":1.26820},{"s":"O","k":49,"p":1.26826},{"s":"O","k":52,"p":1.26821},{"s":"O","k":55,"p":1.26800},
      {"s":"O","k":58,"p":1.26774},{"s":"O","k":60,"p":1.26727},{"s":"O","k":62,"p":1.26711},{"s":"O","k":64,"p":1.26753},
      {"s":"O","k":66,"p":1.26794},{"s":"O","k":68,"p":1.26812},{"s":"O","k":70,"p":1.26800},{"s":"O","k":73,"p":1.26779},
      {"s":"O","k":77,"p":1.26779},{"s":"O","k":81,"p":1.26774},{"s":"O","k":83,"p":1.26732},{"s":"O","k":86,"p":1.26706},
      {"s":"O","k":88,"p":1.26737},{"s":"O","k":90,"p":1.26789},{"s":"O","k":92,"p":1.26841},{"s":"O","k":93,"p":1.26864},
      {"s":"O","k":95,"p":1.26852},{"s":"O","k":96,"p":1.26850},{"s":"O","k":98,"p":1.26810},{"s":"O","k":100,"p":1.26763},
      {"s":"O","k":102,"p":1.26742},{"s":"O","k":103,"p":1.26758},{"s":"O","k":104,"p":1.26763},{"s":"O","k":106,"p":1.26800},
      {"s":"O","k":108,"p":1.26862},{"s":"O","k":109,"p":1.26956},{"s":"O","k":111,"p":1.27003},{"s":"O","k":113,"p":1.27013},
      {"s":"O","k":115,"p":1.27029},{"s":"O","k":117,"p":1.27050},{"s":"O","k":118,"p":1.27039},{"s":"O","k":120,"p":1.26987},
      {"s":"O","k":121,"p":1.26925},{"s":"O","k":123,"p":1.26898},{"s":"O","k":124,"p":1.26878},{"s":"O","k":125,"p":1.26925},
      {"s":"O","k":127,"p":1.26982},{"s":"O","k":129,"p":1.27013},{"s":"O","k":130,"p":1.26998},{"s":"O","k":132,"p":1.26951},
      {"s":"O","k":134,"p":1.26914},{"s":"O","k":135,"p":1.26883},{"s":"O","k":136,"p":1.26872},{"s":"O","k":138,"p":1.26895},
      {"s":"O","k":140,"p":1.26914},{"s":"O","k":142,"p":1.26904},{"s":"O","k":144,"p":1.26893},{"s":"O","k":146,"p":1.26872},
      {"s":"O","k":148,"p":1.26864},{"s":"O","k":150,"p":1.26867},{"s":"O","k":152,"p":1.26872},{"s":"O","k":154,"p":1.26883},
      {"s":"O","k":156,"p":1.26885},{"s":"O","k":158,"p":1.26867},{"s":"O","k":163,"p":1.26847},{"s":"O","k":165,"p":1.26852},
      {"s":"O","k":168,"p":1.26857},{"s":"O","k":170,"p":1.26888},{"s":"O","k":172,"p":1.26914},{"s":"O","k":174,"p":1.26935},
      {"s":"O","k":176,"p":1.26932},{"s":"O","k":178,"p":1.26920},{"s":"O","k":180,"p":1.26914},{"s":"O","k":183,"p":1.26906},
      {"s":"O","k":184,"p":1.26914},{"s":"O","k":186,"p":1.26909},{"s":"O","k":188,"p":1.26899},{"s":"O","k":189,"p":1.26883},
      {"s":"O","k":190,"p":1.26857},{"s":"O","k":191,"p":1.26825},{"s":"O","k":192,"p":1.26790},{"s":"O","k":193,"p":1.26748},
      {"s":"O","k":194,"p":1.26705},{"s":"O","k":195,"p":1.26585},{"s":"O","k":196,"p":1.26480},{"s":"O","k":197,"p":1.26335},
      {"s":"O","k":198,"p":1.26225},{"s":"O","k":199,"p":1.26125},{"s":"O","k":200,"p":1.26065},{"s":"O","k":201,"p":1.26030},
      {"s":"O","k":202,"p":1.25993},{"s":"O","k":203,"p":1.25955},{"s":"O","k":204,"p":1.25917}
    ],
    "mfi": [
      {"k":0,"m":45.8},{"k":1,"m":45.8},{"k":2,"m":37.7},{"k":3,"m":16.4},{"k":4,"m":30.2},{"k":6,"m":32.0},
      {"k":7,"m":45.8},{"k":8,"m":31.1},{"k":10,"m":32.4},{"k":11,"m":12.4},{"k":15,"m":12.4},{"k":16,"m":25.3},
      {"k":17,"m":22.2},{"k":18,"m":18.6},{"k":19,"m":32.0},{"k":20,"m":32.4},{"k":21,"m":22.2},{"k":22,"m":21.3},
      {"k":23,"m":12.4},{"k":25,"m":13.3},{"k":26,"m":8.9},{"k":27,"m":20.0},{"k":28,"m":20.9},{"k":29,"m":25.3},
      {"k":30,"m":26.6},{"k":31,"m":30.2},{"k":32,"m":48.0},{"k":34,"m":34.6},{"k":35,"m":48.9},{"k":36,"m":50.2},
      {"k":38,"m":64.4},{"k":40,"m":25.8},{"k":44,"m":28.0},{"k":46,"m":44.4},{"k":47,"m":68.0},{"k":48,"m":63.5},
      {"k":49,"m":51.1},{"k":51,"m":52.0},{"k":52,"m":42.2},{"k":55,"m":8.9},{"k":56,"m":7.5},{"k":58,"m":5.8},
      {"k":59,"m":25.8},{"k":60,"m":25.8},{"k":61,"m":20.0},{"k":63,"m":44.4},{"k":65,"m":85.8},{"k":66,"m":68.0},
      {"k":67,"m":57.7},{"k":68,"m":57.7},{"k":69,"m":44.4},{"k":70,"m":44.4},{"k":71,"m":31.1},{"k":72,"m":32.0},
      {"k":73,"m":44.4},{"k":75,"m":45.3},{"k":76,"m":56.9},{"k":77,"m":53.3},{"k":78,"m":65.8},{"k":80,"m":32.4},
      {"k":82,"m":32.4},{"k":83,"m":12.0},{"k":84,"m":0.5},{"k":85,"m":13.3},{"k":86,"m":14.2},{"k":87,"m":34.2},
      {"k":88,"m":45.3},{"k":89,"m":58.6},{"k":90,"m":75.1},{"k":91,"m":73.3},{"k":93,"m":72.8},{"k":94,"m":55.5},
      {"k":96,"m":57.3},{"k":97,"m":44.0},{"k":98,"m":44.0},{"k":99,"m":26.2},{"k":100,"m":26.2},{"k":101,"m":40.0},
      {"k":102,"m":37.7},{"k":104,"m":37.7},{"k":105,"m":52.8},{"k":107,"m":88.8},{"k":110,"m":88.8},{"k":111,"m":80.8},
      {"k":113,"m":49.7},{"k":114,"m":53.3},{"k":116,"m":27.5},{"k":117,"m":32.0},{"k":120,"m":32.0},{"k":121,"m":18.6},
      {"k":122,"m":18.6},{"k":123,"m":30.6},{"k":124,"m":24.4},{"k":126,"m":53.3},{"k":127,"m":54.2},{"k":128,"m":58.6},
      {"k":129,"m":76.4},{"k":131,"m":50.6},{"k":133,"m":12.0},{"k":134,"m":12.0},{"k":135,"m":23.1},{"k":136,"m":23.1},
      {"k":137,"m":32.8},{"k":138,"m":32.8},{"k":139,"m":45.3},{"k":140,"m":52.0},{"k":141,"m":65.3},{"k":144,"m":12.0},
      {"k":145,"m":24.4},{"k":146,"m":13.3},{"k":147,"m":13.3},{"k":148,"m":25.3},{"k":150,"m":61.7},{"k":152,"m":46.6},
      {"k":154,"m":70.6},{"k":155,"m":57.3},{"k":156,"m":56.4},{"k":157,"m":41.7},{"k":158,"m":59.9},{"k":159,"m":56.4},
      {"k":160,"m":38.6},{"k":161,"m":37.7},{"k":162,"m":35.1},{"k":163,"m":41.7},{"k":164,"m":48.8},{"k":166,"m":50.6},
      {"k":167,"m":64.4},{"k":168,"m":53.3},{"k":169,"m":57.7},{"k":170,"m":58.6},{"k":171,"m":63.1},{"k":172,"m":64.4},
      {"k":173,"m":64.4},{"k":174,"m":53.3},{"k":175,"m":53.3},{"k":176,"m":65.3},{"k":177,"m":65.3},{"k":179,"m":28.8},
      {"k":181,"m":28.8},{"k":182,"m":26.2},{"k":184,"m":44.0},{"k":185,"m":40.8},{"k":186,"m":39.5},{"k":188,"m":33.3},
      {"k":189,"m":30.6},{"k":191,"m":0.5},{"k":198,"m":0.5},{"k":200,"m":16.4},{"k":202,"m":20.0},{"k":204,"m":29.9}
    ],
    "levels": [
      {"p":1.27486,"t":"1.2749"},{"p":1.27420,"t":"1.2742"},{"p":1.27364,"t":"1.2736"},
      {"p":1.27230,"t":"1.2723"},{"p":1.27248,"t":"1.2725"},
      {"p":1.26926,"t":"1.2693"},{"p":1.26914,"t":"1.2691"},{"p":1.26834,"t":"1.2683"}
    ],
    "last": [{"p":1.25828,"t":"1.2582"}],
    "trend": [{"k":106.0,"p":1.27015},{"k":117.0,"p":1.26953}],
    "arrow": [{"k":180.8,"p":1.26365},{"k":190.0,"p":1.26740}],
    "head": [{"k":190.0,"p":1.26740}],
    "box": [{"k1":174.8,"k2":186.2,"p1":1.26243,"p2":1.26363,"k":180.5,"p":1.26308,"t":"11.00"}],
    "caption": [{"k":1.9,"p":1.27616,"t":"EURUSD,M15  1.25809 1.25840 1.25808 1.25828"}],
    "marker": [{"k":0.77,"p":1.27627}],
    "mfiCaption": [{"k":0.44,"m":84.4,"t":"MFI(7) 29.8925"}],
    "stamp": [{"k":186.2,"m":34.7,"t":"Binaryoptionssurvey.ru"}]
  },
  "vconcat": [
    {
      "width": 1872,
      "height": 638,
      "layer": [
        {
          "data": {"name": "candles"},
          "mark": {"type": "rule", "color": "#000000", "strokeWidth": 1},
          "encoding": {
            "x": {
              "field": "k", "type": "quantitative", "title": null,
              "scale": {"domain": [-0.1875, 233.8125], "nice": false, "zero": false},
              "axis": {
                "values": [0,4,8,12,16,20,24,28,32,36,40,44,48,52,56,60,64,68,72,76,80,84,88,92,96,100,104,108,112,116,120,124,128,132,136,140,144,148,152,156,160,164,168,172,176,180,184,188,192,196,200,204,208,212,216,220,224,228,232],
                "tickCount": 200,
                "grid": true, "gridColor": "#c0c0c0", "gridDash": [3, 3],
                "labels": false, "ticks": false, "domain": false, "title": null
              }
            },
            "y": {
              "field": "l", "type": "quantitative", "title": null,
              "scale": {"domain": [1.25655, 1.27652], "nice": false, "zero": false},
              "axis": {
                "orient": "right",
                "values": [1.27558,1.27453,1.27348,1.27243,1.27138,1.27033,1.26928,1.26823,1.26718,1.26613,1.26508,1.26403,1.26298,1.26193,1.26088,1.25983,1.25878,1.25773,1.25668],
                "tickCount": 200,
                "format": ".4f",
                "grid": true, "gridColor": "#c0c0c0", "gridDash": [3, 3],
                "domain": false, "tickSize": 3, "tickColor": "#000000",
                "labelPadding": 2, "labelFont": "Liberation Sans", "labelFontSize": 9,
                "labelColor": "#000000", "labelOverlap": false, "labelBound": false,
                "title": null
              }
            },
            "y2": {"field": "h"}
          }
        },
        {
          "data": {"name": "candles"},
          "mark": {"type": "bar", "size": 4, "stroke": "#000000", "strokeWidth": 1},
          "encoding": {
            "x": {"field": "k", "type": "quantitative", "title": null},
            "y": {"field": "o", "type": "quantitative", "title": null},
            "y2": {"field": "c"},
            "fill": {"condition": {"test": "datum.c >= datum.o", "value": "#3CB371"}, "value": "#DC143C"}
          }
        },
        {
          "data": {"name": "last"},
          "mark": {"type": "rule", "color": "#c0c0c0", "strokeWidth": 1},
          "encoding": {"y": {"field": "p", "type": "quantitative", "title": null}}
        },
        {
          "data": {"name": "levels"},
          "mark": {"type": "rule", "color": "#FF0000", "strokeWidth": 1},
          "encoding": {"y": {"field": "p", "type": "quantitative", "title": null}}
        },
        {
          "data": {"name": "lines"},
          "mark": {"type": "line", "strokeWidth": 1, "clip": true},
          "encoding": {
            "x": {"field": "k", "type": "quantitative", "title": null},
            "y": {"field": "p", "type": "quantitative", "title": null},
            "color": {
              "field": "s", "type": "nominal",
              "scale": {"domain": ["U", "M", "L", "B", "O"], "range": ["#3CB371", "#3CB371", "#3CB371", "#0000FF", "#FF4500"]},
              "legend": null
            }
          }
        },
        {
          "data": {"name": "trend"},
          "mark": {"type": "line", "color": "#FF0000", "strokeWidth": 3.5},
          "encoding": {
            "x": {"field": "k", "type": "quantitative", "title": null},
            "y": {"field": "p", "type": "quantitative", "title": null}
          }
        },
        {
          "data": {"name": "arrow"},
          "mark": {"type": "line", "color": "#FF0000", "strokeWidth": 4},
          "encoding": {
            "x": {"field": "k", "type": "quantitative", "title": null},
            "y": {"field": "p", "type": "quantitative", "title": null}
          }
        },
        {
          "data": {"name": "head"},
          "mark": {"type": "point", "shape": "triangle-up", "angle": 31.6, "size": 300, "filled": true, "color": "#FF0000", "opacity": 1},
          "encoding": {
            "x": {"field": "k", "type": "quantitative", "title": null},
            "y": {"field": "p", "type": "quantitative", "title": null}
          }
        },
        {
          "data": {"name": "box"},
          "mark": {"type": "rect", "fill": "#FFFFFF", "stroke": "#FF0000", "strokeWidth": 3},
          "encoding": {
            "x": {"field": "k1", "type": "quantitative", "title": null},
            "x2": {"field": "k2"},
            "y": {"field": "p1", "type": "quantitative", "title": null},
            "y2": {"field": "p2"}
          }
        },
        {
          "data": {"name": "box"},
          "mark": {"type": "text", "font": "Liberation Sans", "fontSize": 23, "color": "#E00000", "align": "center", "baseline": "middle"},
          "encoding": {
            "x": {"field": "k", "type": "quantitative", "title": null},
            "y": {"field": "p", "type": "quantitative", "title": null},
            "text": {"field": "t"}
          }
        },
        {
          "data": {"name": "caption"},
          "mark": {"type": "text", "font": "Liberation Sans", "fontSize": 9.5, "color": "#000000", "align": "left", "baseline": "alphabetic"},
          "encoding": {
            "x": {"field": "k", "type": "quantitative", "title": null},
            "y": {"field": "p", "type": "quantitative", "title": null},
            "text": {"field": "t"}
          }
        },
        {
          "data": {"name": "marker"},
          "mark": {"type": "point", "shape": "triangle-down", "size": 45, "filled": true, "color": "#000000", "opacity": 1},
          "encoding": {
            "x": {"field": "k", "type": "quantitative", "title": null},
            "y": {"field": "p", "type": "quantitative", "title": null}
          }
        },
        {
          "data": {"name": "levels"},
          "mark": {"type": "point", "shape": "M-1,-0.31H1V0.31H-1Z", "size": 1024, "filled": true, "color": "#FF0000", "opacity": 1, "strokeWidth": 0},
          "encoding": {
            "x": {"datum": 235.94, "type": "quantitative"},
            "y": {"field": "p", "type": "quantitative", "title": null}
          }
        },
        {
          "data": {"name": "last"},
          "mark": {"type": "point", "shape": "M-1,-0.26H1V0.26H-1Z", "size": 1024, "filled": true, "color": "#000000", "opacity": 1, "strokeWidth": 0},
          "encoding": {
            "x": {"datum": 235.94, "type": "quantitative"},
            "y": {"field": "p", "type": "quantitative", "title": null}
          }
        },
        {
          "data": {"name": "levels"},
          "mark": {"type": "text", "font": "Liberation Sans", "fontSize": 9, "color": "#FFFFFF", "align": "left", "baseline": "middle"},
          "encoding": {
            "x": {"datum": 234.5, "type": "quantitative"},
            "y": {"field": "p", "type": "quantitative", "title": null},
            "text": {"field": "t"}
          }
        },
        {
          "data": {"name": "last"},
          "mark": {"type": "text", "font": "Liberation Sans", "fontSize": 9, "color": "#FFFFFF", "align": "left", "baseline": "middle"},
          "encoding": {
            "x": {"datum": 234.5, "type": "quantitative"},
            "y": {"field": "p", "type": "quantitative", "title": null},
            "text": {"field": "t"}
          }
        }
      ]
    },
    {
      "width": 1872,
      "height": 76,
      "layer": [
        {
          "data": {"name": "mfi"},
          "mark": {"type": "line", "color": "#1E90FF", "strokeWidth": 2},
          "encoding": {
            "x": {
              "field": "k", "type": "quantitative", "title": null,
              "scale": {"domain": [-0.1875, 233.8125], "nice": false, "zero": false},
              "axis": {
                "values": [0,4,8,12,16,20,24,28,32,36,40,44,48,52,56,60,64,68,72,76,80,84,88,92,96,100,104,108,112,116,120,124,128,132,136,140,144,148,152,156,160,164,168,172,176,180,184,188,192,196,200,204,208,212,216,220,224,228,232],
                "tickCount": 200,
                "grid": true, "gridColor": "#c0c0c0", "gridDash": [3, 3],
                "labels": false, "ticks": false, "domain": false, "title": null
              }
            },
            "y": {
              "field": "m", "type": "quantitative", "title": null,
              "scale": {"domain": [-1.33, 100], "nice": false, "zero": false},
              "axis": {
                "orient": "right",
                "values": [0, 20, 80, 100],
                "tickCount": 200,
                "format": "d",
                "grid": true, "gridColor": "#c0c0c0", "gridDash": [3, 3],
                "gridOpacity": {"condition": {"test": "datum.value == 20 || datum.value == 80", "value": 1}, "value": 0},
                "domain": false, "tickSize": 3, "tickColor": "#000000",
                "labelPadding": 2, "labelFont": "Liberation Sans", "labelFontSize": 9,
                "labelColor": "#000000", "labelFlush": true, "labelOverlap": false,
                "title": null
              }
            }
          }
        },
        {
          "data": {"name": "mfiCaption"},
          "mark": {"type": "text", "font": "Liberation Sans", "fontSize": 9.5, "color": "#000000", "align": "left", "baseline": "alphabetic"},
          "encoding": {
            "x": {"field": "k", "type": "quantitative", "title": null},
            "y": {"field": "m", "type": "quantitative", "title": null},
            "text": {"field": "t"}
          }
        },
        {
          "data": {"name": "stamp"},
          "mark": {"type": "text", "font": "Liberation Serif", "fontStyle": "italic", "fontSize": 39, "color": "#2f2f2f", "align": "left", "baseline": "alphabetic"},
          "encoding": {
            "x": {"field": "k", "type": "quantitative", "title": null},
            "y": {"field": "m", "type": "quantitative", "title": null},
            "text": {"field": "t"}
          }
        }
      ]
    }
  ]
}
